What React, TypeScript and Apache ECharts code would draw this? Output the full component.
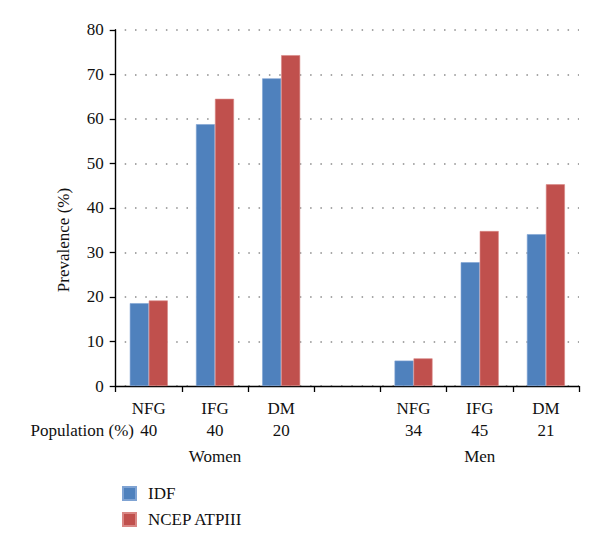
import React, { useEffect, useRef } from "react";
import * as echarts from "echarts";

const categories = ["NFG", "IFG", "DM", "", "NFG", "IFG", "DM"];
const populations = ["40", "40", "20", "", "34", "45", "21"];
const groups = ["", "Women", "", "", "", "Men", ""];
const idfValues: (number | null)[] = [18.6, 58.8, 69.1, null, 5.7, 27.8, 34.1];
const ncepValues: (number | null)[] = [19.2, 64.5, 74.3, null, 6.2, 34.8, 45.3];
const yTicks = { min: 0, max: 80, interval: 10 };

const FONT = "Times New Roman, Liberation Serif, DejaVu Serif, serif";

export default function App() {
  const ref = useRef<HTMLDivElement>(null);
  useEffect(() => {
    document.body.style.margin = "0";
    if (!ref.current) return;
    const chart = echarts.init(ref.current, undefined, { renderer: "svg" });
    chart.setOption({
      animation: false,
      backgroundColor: "#ffffff",
      textStyle: { fontFamily: FONT },
      grid: { left: 115.7, right: 21, top: 29.8, bottom: 157, containLabel: false },
      legend: {
        orient: "vertical",
        left: 117,
        top: 480,
        itemWidth: 13,
        itemHeight: 13,
        itemGap: 9,
        icon: "rect",
        textStyle: { fontFamily: FONT, fontSize: 17, color: "#111", padding: [0, 0, 0, 7] },
        data: ["IDF", "NCEP ATPIII"],
      },
      xAxis: {
        type: "category",
        data: categories.map((c, i) => ({ value: String(i), label: c })),
        boundaryGap: true,
        axisLine: { lineStyle: { color: "#000", width: 1.4 } },
        axisTick: { show: true, length: 6, lineStyle: { color: "#000", width: 1.3 }, interval: 0 },
        axisLabel: {
          interval: 0,
          margin: 11,
          fontFamily: FONT,
          formatter: (_v: string, i: number) =>
            `{a|${categories[i] || " "}}\n{b|${populations[i] || " "}}\n{c|${groups[i] || " "}}`,
          rich: {
            a: { fontFamily: FONT, fontSize: 17, color: "#111", lineHeight: 22 },
            b: { fontFamily: FONT, fontSize: 17, color: "#111", lineHeight: 22 },
            c: { fontFamily: FONT, fontSize: 17, color: "#111", lineHeight: 30 },
          },
        },
        splitLine: { show: false },
      },
      yAxis: {
        type: "value",
        min: yTicks.min,
        max: yTicks.max,
        interval: yTicks.interval,
        axisLine: { show: true, lineStyle: { color: "#000", width: 1.4 } },
        axisTick: { show: true, length: 6, lineStyle: { color: "#000", width: 1.3 } },
        axisLabel: { fontFamily: FONT, fontSize: 17, color: "#111", margin: 12 },
        splitLine: {
          show: true,
          lineStyle: { color: "#8a8a8a", width: 1.5, type: [1.5, 8.8], dashOffset: -9 },
        },
      },
      graphic: [
        {
          type: "text",
          x: 63,
          y: 240,
          rotation: Math.PI / 2,
          style: {
            text: "Prevalence (%)",
            fontFamily: FONT,
            fontSize: 17,
            fill: "#111",
            align: "center",
            verticalAlign: "middle",
          },
        },
        {
          type: "text",
          x: 134,
          y: 430,
          style: {
            text: "Population (%)",
            fontFamily: FONT,
            fontSize: 17,
            fill: "#111",
            align: "right",
            verticalAlign: "middle",
          },
        },
      ],
      series: [
        {
          name: "IDF",
          type: "bar",
          data: idfValues,
          barGap: "0%",
          barCategoryGap: "42.6%",
          itemStyle: { color: "#4F81BD", borderColor: "#7fa3d3", borderWidth: 0.6 },
        },
        {
          name: "NCEP ATPIII",
          type: "bar",
          data: ncepValues,
          barGap: "0%",
          barCategoryGap: "42.6%",
          itemStyle: { color: "#C0504D", borderColor: "#d98784", borderWidth: 0.6 },
        },
      ],
    });
    return () => chart.dispose();
  }, []);
  return <div ref={ref} style={{ width: 600, height: 543 }} />;
}
